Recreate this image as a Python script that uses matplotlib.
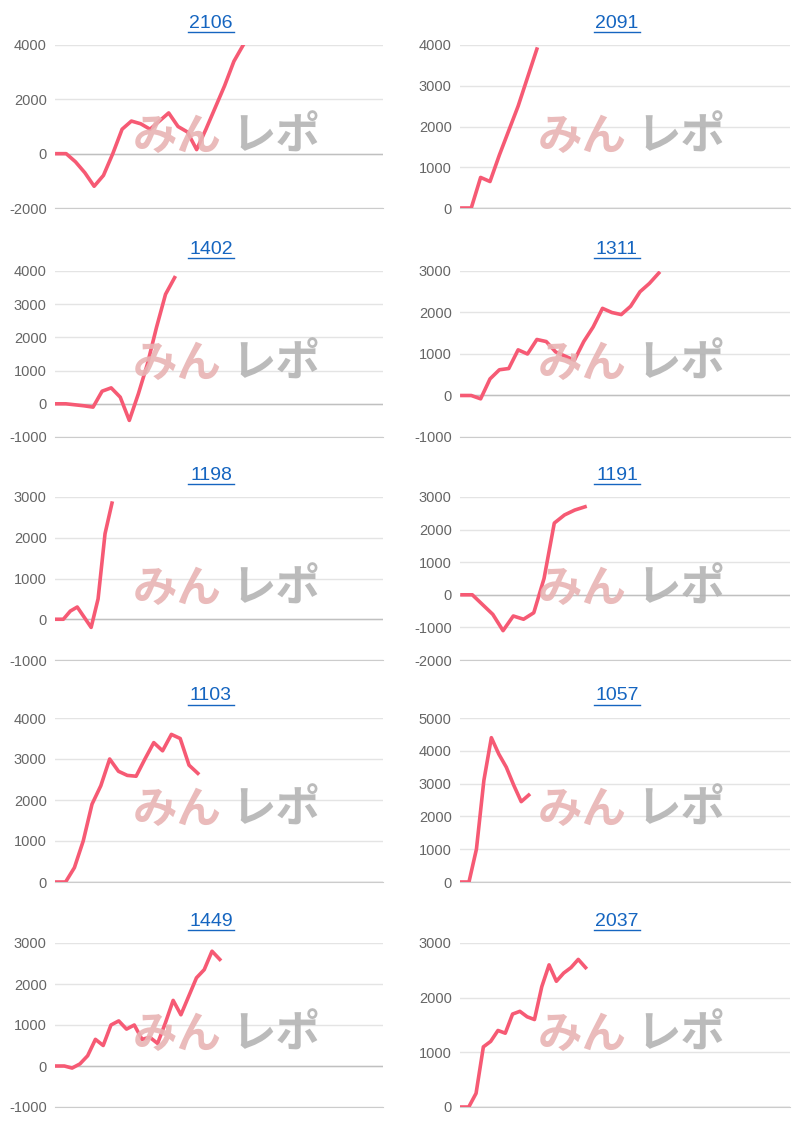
import matplotlib
matplotlib.use("Agg")
import matplotlib.pyplot as plt

titles = ["2106", "2091", "1402", "1311", "1198", "1191", "1103", "1057", "1449", "2037"]
v2106 = [0, 0, -300, -700, -1200, -800, 0, 900, 1200, 1100, 900, 1200, 1500, 1000, 800, 150, 900, 1700, 2500, 3400, 4000]
v2091 = [0, 0, 750, 650, 1300, 1900, 2500, 3200, 3900]
v1402 = [0, 0, -30, -60, -100, 380, 480, 200, -500, 300, 1200, 2300, 3300, 3800]
v1311 = [0, 0, -80, 400, 620, 650, 1100, 1000, 1350, 1300, 1050, 950, 850, 1300, 1650, 2100, 2000, 1950, 2150, 2500, 2700, 2950]
v1198 = [0, 0, 200, 300, 50, -200, 500, 2100, 2850]
v1191 = [0, 0, -300, -600, -1100, -650, -750, -550, 500, 2200, 2450, 2600, 2700]
v1103 = [0, 0, 350, 1000, 1900, 2350, 3000, 2700, 2600, 2580, 3000, 3400, 3200, 3600, 3500, 2850, 2650]
v1057 = [0, 0, 1000, 3100, 4400, 3900, 3500, 2950, 2450, 2650]
v1449 = [0, 0, -50, 50, 250, 650, 500, 1000, 1100, 900, 1000, 650, 700, 550, 1050, 1600, 1250, 1700, 2150, 2350, 2800, 2600]
v2037 = [0, 0, 250, 1100, 1200, 1400, 1350, 1700, 1750, 1650, 1600, 2200, 2600, 2300, 2450, 2550, 2700, 2550]
series = [v2106, v2091, v1402, v1311, v1198, v1191, v1103, v1057, v1449, v2037]
ylims = [(-2000, 4000), (0, 4000), (-1000, 4000), (-1000, 3000), (-1000, 3000),
         (-2000, 3000), (0, 4000), (0, 5000), (-1000, 3000), (0, 3000)]
yticks = [[-2000, 0, 2000, 4000], None, None, None, None, None, None, None, None, None]
nslots = [35, 35, 36, 35, 47, 32, 37, 44, 42, 45]

W, H = 812, 1125
fig = plt.figure(figsize=(W / 100, H / 100), dpi=100)
cols = [(55, 383), (460, 790)]
rows = [(45, 208), (271, 437), (497, 660), (718, 882), (943, 1107)]
for i in range(10):
    r, c = divmod(i, 2)
    x0, x1 = cols[c]
    y0, y1 = rows[r]
    ax = fig.add_axes([x0 / W, 1 - y1 / H, (x1 - x0) / W, (y1 - y0) / H])
    lo, hi = ylims[i]
    ax.set_ylim(lo, hi)
    ax.set_xlim(-0.2, nslots[i])
    ticks = yticks[i] or list(range(lo, hi + 1, 1000))
    ax.set_yticks(ticks)
    ax.set_yticklabels([str(t) for t in ticks], family=["Liberation Sans"])
    ax.grid(axis="y", color="#e4e4e4", lw=1)
    ax.set_axisbelow(True)
    for s in ["top", "right", "left"]:
        ax.spines[s].set_visible(False)
    ax.spines["bottom"].set_color("#cccccc")
    ax.axhline(0, color="#c0c0c0", lw=1, zorder=1)
    ax.set_xticks([])
    ax.tick_params(axis="y", length=0, labelsize=10.5, colors="#666666", pad=6)
    # watermark
    cx = (x0 + 78) / W
    cy = 1 - ((y0 + y1) / 2 + 10) / H
    fig.text(cx, cy, "みん", fontsize=32, fontweight="bold", style="italic", color="#e8b4b4",
             family=["Noto Sans CJK JP"], va="center", ha="left", alpha=0.9)
    fig.text(cx + 98 / W, cy, "レポ", fontsize=32, fontweight="bold", style="italic", color="#b4b4b4",
             family=["Noto Sans CJK JP"], va="center", ha="left", alpha=0.9)
    ax.plot(range(len(series[i])), series[i], color="#f65a74", lw=2.6, zorder=3,
            solid_joinstyle="round")
    fig.text((x0 + x1) / 2 / W - 8 / W, 1 - (y0 - 22) / H, titles[i], fontsize=14,
             color="#1565c0", ha="center", va="center", family=["Liberation Sans"])
    fig.add_artist(plt.Line2D([((x0 + x1) / 2 - 31) / W, ((x0 + x1) / 2 + 15) / W],
                              [1 - (y0 - 13) / H] * 2, color="#1565c0", lw=1))
fig.savefig("out.png", dpi=100)
